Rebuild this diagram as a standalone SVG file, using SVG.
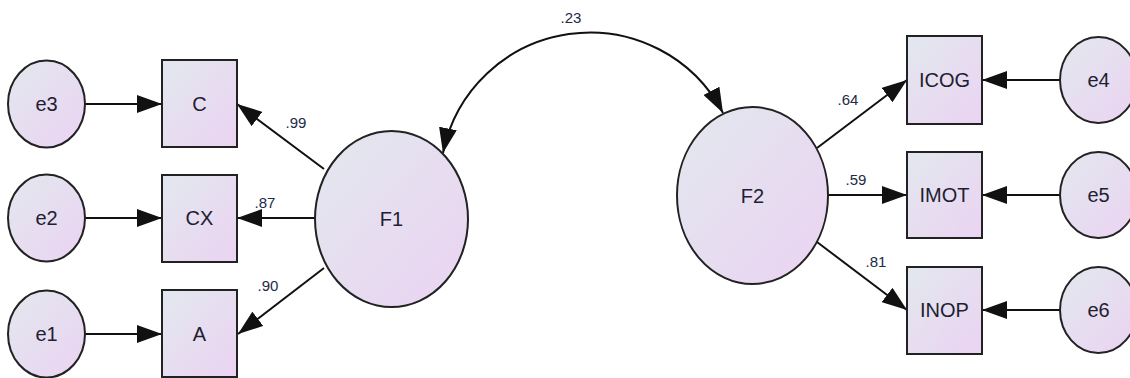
<svg xmlns="http://www.w3.org/2000/svg" width="1130" height="378" viewBox="0 0 1130 378">
<defs>
<linearGradient id="fill" x1="0" y1="0" x2="1" y2="1">
<stop offset="0" stop-color="#e2e8ee"/>
<stop offset="1" stop-color="#ebd3f2"/>
</linearGradient>
<marker id="ah" viewBox="0 0 25 18" refX="25" refY="9" markerWidth="25" markerHeight="18" markerUnits="userSpaceOnUse" orient="auto-start-reverse">
<path d="M0,0 L25,9 L0,18 z" fill="#111"/>
</marker>
<style>
.n{fill:url(#fill);stroke:#222;stroke-width:2}
.t{font-family:"Liberation Sans",Arial,sans-serif;font-size:20px;fill:#1e2030;text-anchor:middle;dominant-baseline:central}
.l{font-family:"Liberation Sans",Arial,sans-serif;font-size:15px;fill:#1c2a48;text-anchor:middle;dominant-baseline:central}
.c{fill:none;stroke:#111;stroke-width:2;marker-end:url(#ah)}
</style>
</defs>
<rect width="1130" height="378" fill="#fff"/>
<g id="connectors">
<line class="c" x1="85" y1="104" x2="162" y2="104"/>
<line class="c" x1="85" y1="218" x2="162" y2="218"/>
<line class="c" x1="85" y1="334" x2="162" y2="334"/>
<line class="c" x1="324" y1="169" x2="237" y2="104"/>
<line class="c" x1="315" y1="218" x2="237" y2="218"/>
<line class="c" x1="324" y1="268" x2="238" y2="334"/>
<path class="c" style="marker-start:url(#ah)" d="M443,153 A150,150 0 0 1 723,113"/>
<line class="c" x1="817" y1="148" x2="907" y2="80"/>
<line class="c" x1="828" y1="195" x2="907" y2="195"/>
<line class="c" x1="817" y1="242" x2="907" y2="310"/>
<line class="c" x1="1060" y1="80" x2="982" y2="80"/>
<line class="c" x1="1060" y1="195" x2="982" y2="195"/>
<line class="c" x1="1060" y1="310" x2="982" y2="310"/>
<text class="l" x="296" y="122">.99</text>
<text class="l" x="265" y="202">.87</text>
<text class="l" x="268" y="285">.90</text>
<text class="l" x="571" y="17">.23</text>
<text class="l" x="848" y="99">.64</text>
<text class="l" x="856" y="179">.59</text>
<text class="l" x="876" y="261">.81</text>
</g>
<g id="e3"><ellipse class="n" cx="46.5" cy="104" rx="38.5" ry="43.5"/><text class="t" x="46.5" y="104">e3</text></g>
<g id="e2"><ellipse class="n" cx="46.5" cy="218" rx="38.5" ry="43.5"/><text class="t" x="46.5" y="218">e2</text></g>
<g id="e1"><ellipse class="n" cx="46.5" cy="334" rx="38.5" ry="43.5"/><text class="t" x="46.5" y="334">e1</text></g>
<g id="C"><rect class="n" x="162" y="60" width="75" height="87"/><text class="t" x="199.5" y="104">C</text></g>
<g id="CX"><rect class="n" x="162" y="175" width="75" height="87"/><text class="t" x="199.5" y="218">CX</text></g>
<g id="A"><rect class="n" x="162" y="290" width="75" height="87"/><text class="t" x="199.5" y="334">A</text></g>
<g id="F1"><ellipse class="n" cx="391.5" cy="219" rx="76.5" ry="88"/><text class="t" x="391.5" y="219">F1</text></g>
<g id="F2"><ellipse class="n" cx="752.5" cy="195.5" rx="75.5" ry="88.5"/><text class="t" x="752.5" y="195.5">F2</text></g>
<g id="ICOG"><rect class="n" x="907" y="36" width="75" height="88"/><text class="t" x="944.5" y="80">ICOG</text></g>
<g id="IMOT"><rect class="n" x="907" y="152" width="75" height="86"/><text class="t" x="944.5" y="195">IMOT</text></g>
<g id="INOP"><rect class="n" x="907" y="267" width="75" height="87"/><text class="t" x="944.5" y="310">INOP</text></g>
<g id="e4"><ellipse class="n" cx="1098.5" cy="80" rx="38.5" ry="43"/><text class="t" x="1098.5" y="80">e4</text></g>
<g id="e5"><ellipse class="n" cx="1098.5" cy="195" rx="38.5" ry="43"/><text class="t" x="1098.5" y="195">e5</text></g>
<g id="e6"><ellipse class="n" cx="1098.5" cy="310" rx="38.5" ry="43"/><text class="t" x="1098.5" y="310">e6</text></g>
</svg>
